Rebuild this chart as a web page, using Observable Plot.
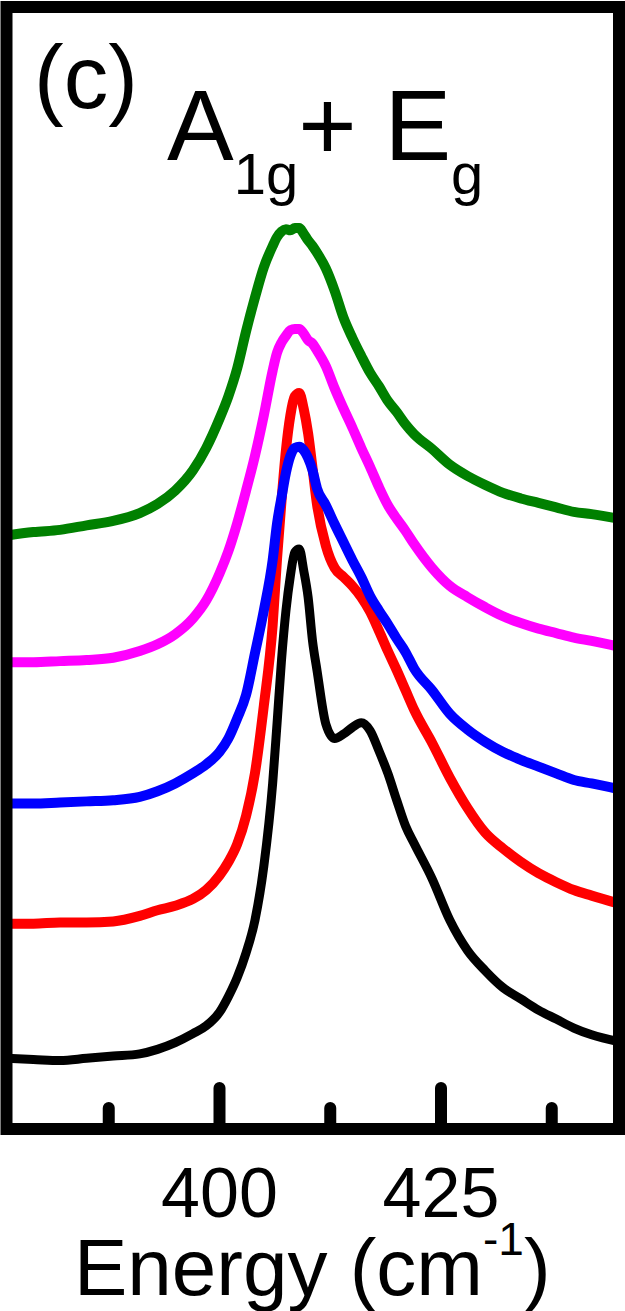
<!DOCTYPE html>
<html><head><meta charset="utf-8">
<script src="https://cdn.jsdelivr.net/npm/d3@7"></script>
<script src="https://cdn.jsdelivr.net/npm/@observablehq/plot@0.6"></script>
<style>html,body{margin:0;padding:0;background:#fff;overflow:hidden}</style>
</head><body><div id="chart"></div>
<script>
// Raman shift (cm^-1)
const energy = [376,379,382,385,388,391,393,395,397,398.5,400,401,402,403,404,405,406,406.5,407,407.5,408,408.5,409,409.5,410,410.5,411,412,413,414,415,416,417,418,419,420,421,422,424,426,428,430,432,434,436,438,440,442,445];
// Intensities (arb. units, offset spectra)
const greenSeries = [52.9,53.2,53.4,53.8,54.2,54.9,55.7,56.9,58.7,60.7,63.3,65.3,67.8,71.1,74.1,76.8,78.7,79.5,80.0,80.2,80.1,80.3,80.3,79.8,79.2,78.7,78.1,76.7,74.7,72.3,70.5,68.9,67.4,66.2,64.9,63.9,62.8,61.9,60.6,59.2,58.2,57.4,56.7,56.2,55.8,55.4,55.0,54.8,54.4];
const magentaSeries = [41.6,41.6,41.7,41.8,42.0,42.6,43.2,44.1,45.5,47.1,49.5,51.5,54.0,56.9,60.0,63.6,67.6,69.2,70.1,70.7,71.2,71.3,71.3,70.9,70.3,70.0,69.4,68.0,66.0,64.2,62.5,60.7,59.0,57.2,55.6,54.4,53.3,52.1,50.0,48.4,47.4,46.5,45.7,45.1,44.6,44.2,43.8,43.5,43.0];
const blueSeries = [29.0,29.0,29.1,29.2,29.3,29.6,30.1,30.8,31.7,32.5,33.6,34.8,36.6,38.7,42.4,46.2,50.7,54.0,56.3,58.5,60.0,60.7,60.8,60.5,59.8,58.7,57.1,55.6,53.9,52.3,50.7,49.2,47.5,46.2,45.0,43.7,42.5,41.0,39.1,37.0,35.6,34.5,33.6,32.9,32.3,31.7,31.1,30.8,30.3];
const redSeries = [18.3,18.3,18.4,18.4,18.5,19.0,19.5,19.9,20.5,21.3,22.6,23.8,25.4,27.9,31.7,37.7,44.9,50.9,56.0,60.5,63.6,65.3,65.6,64.2,62.0,58.9,55.7,52.0,50.0,49.2,48.4,47.4,46.1,44.4,42.6,40.9,39.1,37.3,34.4,31.3,28.6,26.4,25.0,23.8,22.8,22.0,21.3,20.8,20.1];
const blackSeries = [6.3,6.2,6.1,6.3,6.5,6.7,7.1,7.7,8.5,9.2,10.4,11.8,13.5,15.7,18.6,23.4,30.8,36.2,41.8,46.2,49.3,51.4,51.7,49.8,47.4,43.5,40.9,36.1,34.8,35.2,35.8,36.2,35.5,33.7,31.7,29.3,27.0,25.4,22.3,18.6,15.9,14.1,12.6,11.6,10.6,9.8,9.0,8.4,7.8];

const majorTicks = [400, 425];
const minorTicks = [387.5, 412.5, 437.5];
const tickLabels = ["400", "425"];

const series = [
  {name: "black", values: blackSeries, color: "#000000", width: 9},
  {name: "red", values: redSeries, color: "#ff0000", width: 10},
  {name: "blue", values: blueSeries, color: "#0000ff", width: 10},
  {name: "magenta", values: magentaSeries, color: "#ff00ff", width: 10},
  {name: "green", values: greenSeries, color: "#008000", width: 10}
];

const font = "'Liberation Sans', Arial, Helvetica, sans-serif";

const lineMarks = series.map(s => Plot.line(
  energy.map((e, i) => ({energy: e, value: s.values[i]})),
  {x: "energy", y: "value", stroke: s.color, strokeWidth: s.width, curve: "monotone-x",
   strokeLinejoin: "round", strokeLinecap: "butt", clip: true}
));

const plot = Plot.plot({
  width: 625,
  height: 1311,
  marginLeft: 6,
  marginRight: 6.5,
  marginTop: 6.5,
  marginBottom: 182.5,
  style: {background: "#fff"},
  x: {domain: [375.96, 445.09], axis: null},
  y: {domain: [0, 100], axis: null},
  marks: [
    ...lineMarks,
    Plot.ruleX(majorTicks, {stroke: "#000", strokeWidth: 12, insetTop: 1081.5, strokeLinecap: "round"}),
    Plot.ruleX(minorTicks, {stroke: "#000", strokeWidth: 12, insetTop: 1101.5, strokeLinecap: "round"}),
    Plot.frame({stroke: "#000", strokeWidth: 12}),
    Plot.axisX(majorTicks, {tickSize: 0, tickPadding: 38, fontSize: 70, fontFamily: font, fill: "#000",
      label: null, tickFormat: d => tickLabels[majorTicks.indexOf(d)]})
  ]
});

document.getElementById("chart").appendChild(plot);
const svg = d3.select(plot);

svg.append("text").attr("x", 34).attr("y", 108).attr("font-size", 89)
  .attr("text-anchor", "start").attr("font-family", font).attr("fill", "#000").text("(c)");

const title = svg.append("text").attr("x", 167).attr("y", 160).attr("font-size", 100)
  .attr("text-anchor", "start").attr("font-family", font).attr("fill", "#000");
title.append("tspan").text("A");
title.append("tspan").attr("font-size", 58).attr("dy", 34).text("1g");
title.append("tspan").attr("font-size", 100).attr("dy", -34).text("+ E");
title.append("tspan").attr("font-size", 58).attr("dy", 34).text("g");

const label = svg.append("text").attr("x", 74).attr("y", 1295).attr("font-size", 80)
  .attr("text-anchor", "start").attr("font-family", font).attr("fill", "#000");
label.append("tspan").text("Energy (cm");
label.append("tspan").attr("font-size", 46).attr("dy", -40).text("-1");
label.append("tspan").attr("font-size", 80).attr("dy", 40).text(")");
</script>
</body></html>
